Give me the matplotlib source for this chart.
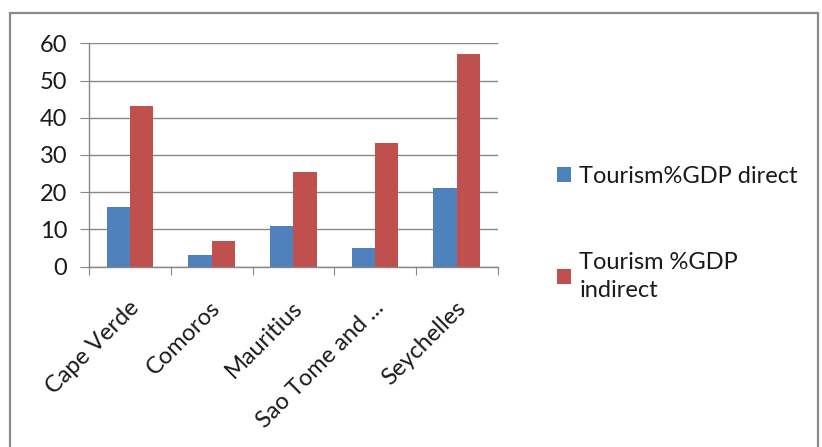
import matplotlib.pyplot as plt
import matplotlib.patches as mpatches
import numpy as np

plt.rcParams['font.family'] = ['Lato', 'DejaVu Sans']

countries = ['Cape Verde', 'Comoros', 'Mauritius', 'Sao Tome and ...', 'Seychelles']
direct = [16, 3.1, 11, 4.9, 21.1]
indirect = [43.2, 7, 25.3, 33.1, 57.1]
series_names = ['Tourism%GDP direct', 'Tourism %GDP\nindirect']
yticks = [0, 10, 20, 30, 40, 50, 60]

blue = '#4F81BD'
red = '#C0504D'
grid_col = '#878787'
txt = '#1a1a1a'

fig = plt.figure(figsize=(8.22, 4.47), dpi=100)
ax = fig.add_axes([0.1083, 0.4034, 0.4972, 0.4997])

x = np.arange(len(countries))
w = 0.286
b1 = ax.bar(x - w / 2, direct, w, color=blue, label=series_names[0])
b2 = ax.bar(x + w / 2, indirect, w, color=red, label=series_names[1])

ax.set_xlim(-0.5, len(countries) - 0.5)
ax.set_ylim(0, 60)
ax.set_yticks(yticks)
ax.yaxis.grid(True, color=grid_col, linewidth=1)
ax.set_axisbelow(True)

# category ticks sit on the boundaries, labels at the centres
ax.set_xticks(np.arange(len(countries) + 1) - 0.5)
ax.set_xticklabels([])
ax.set_xticks(x - 0.02, minor=True)
ax.set_xticklabels(countries, minor=True, rotation=45, ha='right',
                   rotation_mode='anchor', fontsize=17, color=txt)
ax.tick_params(axis='x', which='minor', length=0, pad=22)
ax.tick_params(axis='x', which='major', length=6, color=grid_col, direction='out')
ax.tick_params(axis='y', length=6.5, color=grid_col, labelsize=17,
               labelcolor=txt, pad=9)

for s in ['top', 'right']:
    ax.spines[s].set_visible(False)
for s in ['left', 'bottom']:
    ax.spines[s].set_color(grid_col)
    ax.spines[s].set_linewidth(1)

leg = fig.legend(handles=[b1, b2], loc='upper left', bbox_to_anchor=(0.666, 0.65),
                 frameon=False, fontsize=17, handlelength=0.6, handleheight=0.6,
                 handletextpad=0.35, labelspacing=2.75, borderaxespad=0)
for t in leg.get_texts():
    t.set_color(txt)
    t.set_linespacing(1.4)

# outer chart frame
fig.patches.append(mpatches.Rectangle((10 / 822, -0.05), 808 / 822, 1 - 13 / 447 + 0.05,
                                      transform=fig.transFigure, fill=False,
                                      edgecolor='#8a8a8a', linewidth=1.6))

fig.savefig('out.png', dpi=100)
